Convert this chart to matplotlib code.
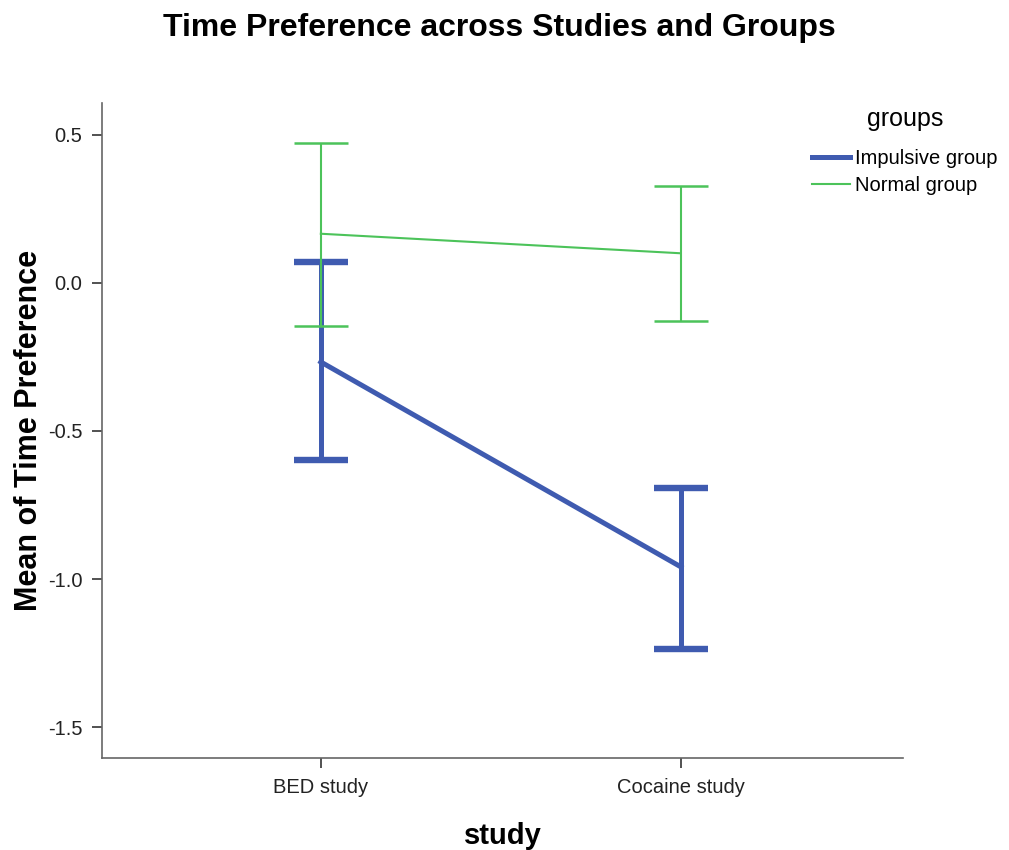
import matplotlib.pyplot as plt
from matplotlib.lines import Line2D

plt.rcParams['font.family'] = ['Liberation Sans', 'DejaVu Sans']

studies = ["BED study", "Cocaine study"]
groups = ["Impulsive group", "Normal group"]

impulsive_mean = [-0.267, -0.959]
impulsive_low = [-0.598, -1.236]
impulsive_high = [0.071, -0.693]

normal_mean = [0.166, 0.100]
normal_low = [-0.145, -0.128]
normal_high = [0.473, 0.328]

yticks = [0.5, 0.0, -0.5, -1.0, -1.5]

blue = "#3f5bb0"
green = "#4cc35a"

fig = plt.figure(figsize=(10.09, 8.5), dpi=100)
ax = fig.add_axes([0.101, 0.108, 0.794, 0.771])

x = list(range(len(studies)))

def draw(mean, low, high, color, lw, cap_lw):
    err = [[m - l for m, l in zip(mean, low)], [h - m for m, h in zip(mean, high)]]
    ax.errorbar(x, mean, yerr=err, color=color, lw=lw, elinewidth=lw,
                capsize=19.5, capthick=cap_lw)

draw(impulsive_mean, impulsive_low, impulsive_high, blue, 3.6, 4.6)
draw(normal_mean, normal_low, normal_high, green, 1.5, 1.8)

ax.set_xlim(-0.608, 1.617)
ax.set_ylim(-1.605, 0.608)
ax.set_xticks(x)
ax.set_xticklabels(studies, fontsize=14.5)
ax.set_yticks(yticks)
ax.set_yticklabels([f"{v:.1f}" for v in yticks], fontsize=14.5)

for side in ["top", "right"]:
    ax.spines[side].set_visible(False)
for side in ["left", "bottom"]:
    ax.spines[side].set_color("#666666")
    ax.spines[side].set_linewidth(1.2)
ax.tick_params(direction="out", length=7, width=1.2, color="#333333",
               labelcolor="#222222", pad=7)

ax.set_xlabel("study", fontsize=21, fontweight="bold", labelpad=18)
ax.set_ylabel("Mean of Time Preference", fontsize=22, fontweight="bold", labelpad=3)
fig.suptitle("Time Preference across Studies and Groups", fontsize=23,
             fontweight="bold", x=0.495, y=0.985)

handles = [Line2D([], [], color=blue, lw=3.6), Line2D([], [], color=green, lw=1.5)]
leg = fig.legend(handles, groups, loc="upper left", bbox_to_anchor=(812 / 1009, 1 - 107 / 850),
                 frameon=False, title="groups", fontsize=14.5, title_fontsize=18,
                 handlelength=1.9, handletextpad=0.25, labelspacing=0.4, borderpad=0,
                 borderaxespad=0)
leg._legend_box.align = "center"
# extra room between the legend title and its entries
leg._legend_box.sep = 13

fig.savefig("out.png", dpi=100)
